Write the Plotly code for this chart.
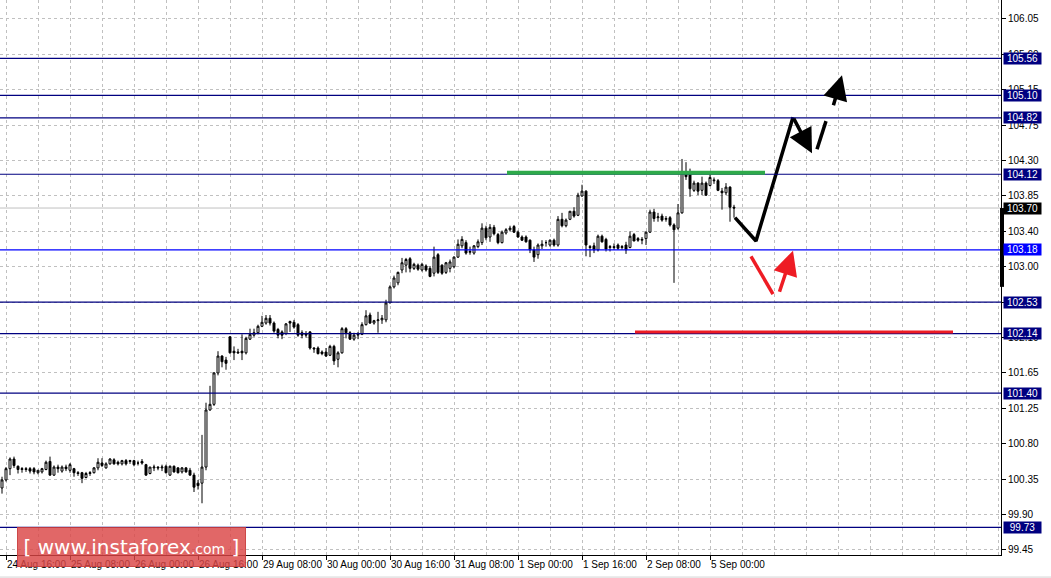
import plotly.graph_objects as go

# ---------------- data (H1 candles, 24 Aug 15:00 -> 5 Sep 06:00) ----------------
open_ = [100.22, 100.32, 100.46, 100.58, 100.49, 100.45, 100.46, 100.46, 100.46, 100.41,
         100.42, 100.45, 100.55, 100.38, 100.48, 100.43, 100.48, 100.44, 100.46, 100.41,
         100.41, 100.35, 100.40, 100.41, 100.47, 100.53, 100.47, 100.52, 100.57, 100.54,
         100.52, 100.56, 100.55, 100.56, 100.53, 100.55, 100.51, 100.40, 100.47, 100.48,
         100.47, 100.49, 100.38, 100.49, 100.47, 100.42, 100.47, 100.44, 100.38, 100.28,
         100.28, 100.48, 101.19, 101.26, 101.65, 101.86, 101.81, 102.10, 101.92, 101.91,
         101.92, 101.90, 102.07, 102.12, 102.15, 102.23, 102.27, 102.33, 102.27, 102.19,
         102.16, 102.14, 102.29, 102.28, 102.25, 102.15, 102.14, 102.16, 101.96, 101.96,
         101.91, 101.91, 101.87, 101.98, 101.82, 101.90, 102.20, 102.15, 102.07, 102.12,
         102.13, 102.25, 102.37, 102.27, 102.30, 102.31, 102.31, 102.52, 102.72, 102.77,
         102.93, 102.99, 103.07, 102.95, 102.99, 102.93, 102.98, 102.95, 102.89, 103.12,
         102.99, 102.90, 102.95, 102.97, 103.09, 103.23, 103.27, 103.15, 103.14, 103.22,
         103.27, 103.45, 103.34, 103.46, 103.37, 103.27, 103.39, 103.43, 103.47, 103.40,
         103.34, 103.34, 103.30, 103.18, 103.12, 103.23, 103.27, 103.24, 103.30, 103.24,
         103.56, 103.48, 103.56, 103.66, 103.61, 103.85, 103.91, 103.22, 103.23, 103.18,
         103.35, 103.31, 103.21, 103.22, 103.24, 103.21, 103.24, 103.21, 103.37, 103.32,
         103.30, 103.32, 103.40, 103.65, 103.58, 103.60, 103.56, 103.58, 103.49, 103.45,
         103.64, 104.15, 104.15, 103.92, 104.01, 103.92, 104.01, 103.98, 104.05, 104.04,
         103.91, 103.89, 103.96, 103.71]
high = [100.36, 100.48, 100.60, 100.61, 100.50, 100.48, 100.48, 100.48, 100.48, 100.44,
        100.47, 100.56, 100.61, 100.50, 100.51, 100.50, 100.51, 100.53, 100.47, 100.43,
        100.42, 100.42, 100.43, 100.48, 100.59, 100.59, 100.54, 100.59, 100.59, 100.56,
        100.57, 100.58, 100.57, 100.57, 100.56, 100.58, 100.52, 100.48, 100.51, 100.49,
        100.51, 100.51, 100.50, 100.50, 100.48, 100.48, 100.48, 100.47, 100.41, 100.32,
        100.88, 101.28, 101.49, 101.66, 101.92, 101.87, 101.85, 102.10, 101.98, 101.95,
        102.13, 102.10, 102.20, 102.20, 102.25, 102.36, 102.37, 102.37, 102.29, 102.21,
        102.18, 102.27, 102.30, 102.31, 102.27, 102.18, 102.17, 102.17, 101.97, 101.98,
        101.93, 101.96, 102.00, 102.00, 101.92, 102.22, 102.22, 102.17, 102.15, 102.16,
        102.28, 102.43, 102.40, 102.31, 102.41, 102.37, 102.56, 102.74, 102.86, 102.91,
        103.08, 103.08, 103.09, 103.02, 103.01, 103.02, 103.00, 102.98, 103.22, 103.14,
        103.00, 103.03, 103.06, 103.10, 103.31, 103.35, 103.30, 103.22, 103.24, 103.31,
        103.51, 103.48, 103.50, 103.49, 103.39, 103.42, 103.45, 103.48, 103.49, 103.42,
        103.36, 103.36, 103.31, 103.22, 103.26, 103.30, 103.30, 103.31, 103.32, 103.60,
        103.64, 103.57, 103.66, 103.71, 103.89, 103.99, 103.92, 103.24, 103.27, 103.37,
        103.37, 103.33, 103.24, 103.26, 103.26, 103.24, 103.28, 103.41, 103.39, 103.34,
        103.34, 103.41, 103.68, 103.69, 103.64, 103.63, 103.60, 103.60, 103.51, 103.75,
        104.31, 104.27, 104.19, 104.04, 104.02, 104.09, 104.03, 104.12, 104.08, 104.06,
        103.95, 104.01, 103.97, 103.74]
low = [100.15, 100.30, 100.38, 100.47, 100.40, 100.41, 100.42, 100.40, 100.39, 100.39,
       100.40, 100.44, 100.37, 100.37, 100.41, 100.41, 100.43, 100.41, 100.36, 100.37,
       100.28, 100.34, 100.37, 100.40, 100.44, 100.48, 100.46, 100.51, 100.51, 100.50,
       100.50, 100.50, 100.52, 100.49, 100.50, 100.51, 100.37, 100.39, 100.43, 100.44,
       100.43, 100.40, 100.37, 100.41, 100.40, 100.40, 100.41, 100.37, 100.17, 100.20,
       100.03, 100.44, 101.18, 101.24, 101.62, 101.72, 101.69, 101.89, 101.81, 101.89,
       101.81, 101.88, 102.06, 102.10, 102.13, 102.22, 102.25, 102.24, 102.15, 102.08,
       102.07, 102.12, 102.16, 102.20, 102.10, 102.08, 102.09, 101.94, 101.90, 101.88,
       101.87, 101.85, 101.86, 101.75, 101.72, 101.89, 102.08, 102.06, 102.05, 102.07,
       102.12, 102.24, 102.26, 102.25, 102.15, 102.26, 102.28, 102.52, 102.70, 102.74,
       102.89, 102.90, 102.90, 102.93, 102.92, 102.91, 102.91, 102.84, 102.85, 102.88,
       102.87, 102.88, 102.90, 102.95, 103.08, 103.20, 103.12, 103.12, 103.12, 103.20,
       103.24, 103.30, 103.28, 103.36, 103.25, 103.26, 103.37, 103.41, 103.39, 103.33,
       103.29, 103.27, 103.14, 103.03, 103.07, 103.19, 103.22, 103.22, 103.22, 103.22,
       103.46, 103.46, 103.55, 103.58, 103.60, 103.84, 103.10, 103.09, 103.14, 103.16,
       103.27, 103.16, 103.16, 103.18, 103.18, 103.18, 103.13, 103.20, 103.29, 103.28,
       103.25, 103.24, 103.39, 103.53, 103.53, 103.53, 103.53, 103.47, 102.77, 103.43,
       103.63, 104.05, 103.84, 103.90, 103.86, 103.86, 103.85, 103.97, 104.00, 103.91,
       103.68, 103.86, 103.53, 103.58]
close = [100.32, 100.46, 100.58, 100.50, 100.45, 100.46, 100.45, 100.43, 100.42, 100.44,
         100.46, 100.54, 100.38, 100.48, 100.46, 100.48, 100.46, 100.51, 100.41, 100.40,
         100.34, 100.40, 100.41, 100.47, 100.54, 100.50, 100.52, 100.58, 100.52, 100.52,
         100.56, 100.52, 100.56, 100.51, 100.53, 100.53, 100.38, 100.48, 100.48, 100.47,
         100.48, 100.41, 100.49, 100.42, 100.41, 100.47, 100.42, 100.38, 100.23, 100.25,
         100.48, 101.19, 101.26, 101.65, 101.86, 101.79, 101.77, 101.90, 101.90, 101.90,
         101.90, 102.08, 102.13, 102.15, 102.23, 102.28, 102.33, 102.27, 102.17, 102.12,
         102.12, 102.26, 102.27, 102.22, 102.12, 102.12, 102.12, 101.96, 101.95, 101.89,
         101.89, 101.86, 101.98, 101.80, 101.90, 102.20, 102.15, 102.07, 102.12, 102.13,
         102.25, 102.36, 102.27, 102.30, 102.31, 102.33, 102.52, 102.72, 102.83, 102.90,
         103.02, 103.06, 102.95, 103.00, 102.94, 103.00, 102.93, 102.85, 103.09, 102.90,
         102.89, 103.02, 103.03, 103.09, 103.25, 103.31, 103.14, 103.16, 103.23, 103.28,
         103.45, 103.33, 103.46, 103.38, 103.27, 103.40, 103.43, 103.45, 103.40, 103.34,
         103.30, 103.28, 103.18, 103.09, 103.24, 103.25, 103.27, 103.30, 103.24, 103.56,
         103.48, 103.55, 103.66, 103.60, 103.86, 103.91, 103.24, 103.21, 103.18, 103.35,
         103.28, 103.19, 103.22, 103.21, 103.20, 103.22, 103.18, 103.35, 103.29, 103.30,
         103.31, 103.40, 103.65, 103.57, 103.59, 103.55, 103.57, 103.49, 103.43, 103.64,
         104.14, 104.09, 103.94, 104.01, 103.91, 104.01, 103.86, 104.08, 104.04, 103.92,
         103.89, 103.96, 103.71, 103.70]
bar_index = list(range(len(close)))

x_tick_index = [1, 17, 33, 49, 65, 81, 97, 113, 129, 145, 161, 177]
x_tick_text = ["24 Aug 16:00", "25 Aug 08:00", "26 Aug 00:00", "26 Aug 16:00",
               "29 Aug 08:00", "30 Aug 00:00", "30 Aug 16:00", "31 Aug 08:00",
               "1 Sep 00:00", "1 Sep 16:00", "2 Sep 08:00", "5 Sep 00:00"]
y_tick_vals = [106.05, 105.61, 105.17, 104.73, 104.29, 103.85, 103.41, 102.97,
               102.53, 102.09, 101.65, 101.21, 100.77, 100.33, 99.89, 99.45]
y_tick_text = ["106.05", "105.60", "105.15", "104.75", "104.30", "103.85", "103.40", "103.00",
               "102.55", "102.10", "101.65", "101.25", "100.80", "100.35", "99.90", "99.45"]

level_prices = [105.56, 105.10, 104.82, 104.12, 103.18, 102.53, 102.14, 101.40, 99.73]
key_level = 103.18
current_price = 103.70
price_marker = [103.70, 102.72]

green_line_x = [126.25, 190.75]
green_line_y = 104.14
red_line_x = [158.25, 237.75]
red_line_y = 102.16

black_path_x = [183.25, 188.5, 197.75]
black_path_y = [103.58, 103.29, 104.83]
black_arrow = [197.75, 104.83, 202.5, 104.38]
dash_seg_x = [203.75, 206.0]
dash_seg_y = [104.43, 104.78]
dash_arrow = [207.75, 104.96, 210.0, 105.35]
red_path_x = [187.25, 192.75]
red_path_y = [103.10, 102.63]
red_arrow = [194.25, 102.64, 197.75, 103.17]

# ---------------- figure ----------------
FONT = "Liberation Sans, Arial, sans-serif"
GRID = "#C0C0C0"
NAVY = "#000080"

fig = go.Figure()
fig.add_trace(go.Candlestick(
    x=bar_index, open=open_, high=high, low=low, close=close,
    increasing=dict(line=dict(color="black", width=1), fillcolor="white"),
    decreasing=dict(line=dict(color="black", width=1), fillcolor="black"),
    whiskerwidth=0, showlegend=False, hoverinfo="skip"))

for xs, ys, col in [(black_path_x, black_path_y, "black"),
                    (dash_seg_x, dash_seg_y, "black"),
                    (red_path_x, red_path_y, "#EE1C24")]:
    fig.add_trace(go.Scatter(x=xs, y=ys, mode="lines", showlegend=False,
                             line=dict(color=col, width=3.5), hoverinfo="skip"))

shapes = []
for p in level_prices:
    shapes.append(dict(type="line", xref="paper", x0=0, x1=1, yref="y", y0=p, y1=p,
                       line=dict(color="#0000FF" if p == key_level else NAVY, width=1.2)))
shapes.append(dict(type="line", xref="paper", x0=0, x1=1, yref="y", y0=current_price,
                   y1=current_price, line=dict(color="#C0C0C0", width=1), layer="below"))
shapes.append(dict(type="line", xref="x", x0=green_line_x[0], x1=green_line_x[1], yref="y",
                   y0=green_line_y, y1=green_line_y, line=dict(color="#2EAA4A", width=4)))
shapes.append(dict(type="line", xref="x", x0=red_line_x[0], x1=red_line_x[1], yref="y",
                   y0=red_line_y, y1=red_line_y, line=dict(color="#EE1C24", width=3)))
shapes.append(dict(type="line", xref="paper", x0=1.001, x1=1.001, yref="y",
                   y0=price_marker[0], y1=price_marker[1], line=dict(color="black", width=4)))
shapes.append(dict(type="rect", xref="paper", x0=-0.01, x1=1.06, yref="paper",
                   y0=-0.0385, y1=-0.05, line=dict(width=0), fillcolor="#E6E6E6"))

annotations = []
for p in level_prices:
    annotations.append(dict(xref="paper", x=1.002, xanchor="left", yref="y", y=p,
                            text=f"{p:.2f}", showarrow=False, width=37, height=11,
                            bgcolor="#0000FF" if p == key_level else NAVY, borderpad=0,
                            font=dict(family=FONT, size=10, color="white")))
annotations.append(dict(xref="paper", x=1.002, xanchor="left", yref="y", y=current_price,
                        text=f"{current_price:.2f}", showarrow=False, width=37, height=11,
                        bgcolor="black", borderpad=0,
                        font=dict(family=FONT, size=10, color="white")))
for arr, col in [(black_arrow, "black"), (dash_arrow, "black"), (red_arrow, "#EE1C24")]:
    annotations.append(dict(x=arr[2], y=arr[3], ax=arr[0], ay=arr[1], xref="x", yref="y",
                            axref="x", ayref="y", text="", showarrow=True, arrowhead=2,
                            arrowsize=1.4, arrowwidth=3.5, arrowcolor=col, standoff=0))
annotations.append(dict(xref="paper", yref="paper", x=0.1309, y=0.0144,
                        xanchor="center", yanchor="middle",
                        text="[ www.instaforex<span style='font-size:14px'>.com</span> ]",
                        showarrow=False, width=227, height=38, borderpad=0,
                        bgcolor="rgba(218,70,70,0.82)", bordercolor="rgba(200,60,60,0.9)",
                        borderwidth=1,
                        font=dict(family="DejaVu Sans, sans-serif", size=20, color="white")))

fig.update_layout(
    width=1051, height=578,
    margin=dict(l=0, r=50, t=0, b=23, autoexpand=False),
    paper_bgcolor="white", plot_bgcolor="white",
    shapes=shapes, annotations=annotations,
    xaxis=dict(range=[-0.5, 249.75], tickvals=x_tick_index, ticktext=x_tick_text,
               tickangle=0, ticks="outside", ticklen=4, tickcolor="black",
               ticklabelposition="outside right",
               tickfont=dict(family=FONT, size=10, color="black"),
               showgrid=True, gridcolor=GRID, griddash="3px,3px", gridwidth=1,
               minor=dict(tickmode="linear", tick0=1, dtick=8, showgrid=True,
                          gridcolor=GRID, griddash="3px,3px", gridwidth=1, ticks=""),
               showline=True, linecolor="black", linewidth=1, zeroline=False,
               rangeslider=dict(visible=False), fixedrange=True),
    yaxis=dict(side="right", range=[99.387, 106.286], tickvals=y_tick_vals,
               ticktext=y_tick_text, ticks="outside", ticklen=4, tickcolor="black",
               tickfont=dict(family=FONT, size=10, color="black"),
               showgrid=True, gridcolor=GRID, griddash="3px,3px", gridwidth=1,
               showline=True, linecolor="black", linewidth=1, zeroline=False,
               fixedrange=True),
)

fig.write_html("out.html", config={"displayModeBar": False},
               post_script="document.body.style.margin='0';document.body.style.overflow='hidden';")
